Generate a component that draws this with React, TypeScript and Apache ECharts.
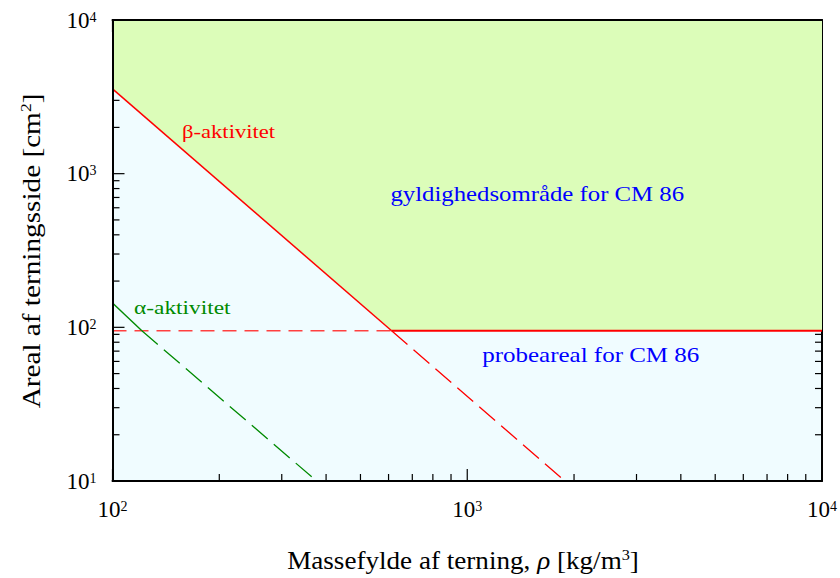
import React, { useEffect, useRef } from "react";
import * as echarts from "echarts";

// ---- axis extents and ticks ----
const X_MIN = 100;
const X_MAX = 10000;
const Y_MIN = 10;
const Y_MAX = 10000;
const xMajorTicks = [100, 1000, 10000];
const yMajorTicks = [10, 100, 1000, 10000];
const xMinorTicks = [200, 300, 400, 500, 600, 700, 800, 900, 2000, 3000, 4000, 5000, 6000, 7000, 8000, 9000];
const yMinorTicks = [20, 30, 40, 50, 60, 70, 80, 90, 200, 300, 400, 500, 600, 700, 800, 900, 2000, 3000, 4000, 5000, 6000, 7000, 8000, 9000];
const xTickValues = [100, 1000, 10000];
const xTickExponents = ["2", "3", "4"];
const yTickValues = [10, 100, 1000, 10000];
const yTickExponents = ["1", "2", "3", "4"];

// ---- axis titles ----
const xTitle = "{t|Massefylde af terning, }{i|ρ}{t| [kg/m}{s|3}{t|]}";
const yTitle = "{t|Areal af terningsside [cm}{s|2}{t|]}";

// ---- curves (density kg/m3, area cm2) ----
const betaSolid = [[100, 3560], [612, 95]];
const betaDashed = [[612, 95], [1884, 10]];
const probeSolid = [[612, 95], [10000, 95]];
const probeDashed = [[100, 95], [612, 95]];
const alphaSolid = [[100, 144], [121, 95]];
const alphaDashed = [[121, 95], [376, 10]];
const validRegion = [[100, 10000], [100, 3560], [612, 95], [10000, 95], [10000, 10000]];

// ---- annotations ----
const annotationTexts = ["β-aktivitet", "α-aktivitet", "gyldighedsområde for CM 86", "probeareal for CM 86"];
const annotationPoints = [[157, 1880], [115, 134], [1575, 740], [2229, 66]];
const annotationColors = ["#ff0000", "#008a00", "#0000ff", "#0000ff"];
const annotationAlign = ["left", "left", "center", "center"];
const annotationSize = [19, 19, 21, 21];
const annotationStretch = [1.19, 1.23, 1.18, 1.19];

const FONT = "'Liberation Serif', 'Times New Roman', serif";

function supLabel(values: number[], exps: string[]) {
  return (v: number) => {
    let idx = 0;
    let best = Infinity;
    values.forEach((t, i) => {
      const d = Math.abs(Math.log10(t) - Math.log10(v));
      if (d < best) { best = d; idx = i; }
    });
    return `{b|10}{s|${exps[idx]}}`;
  };
}

const tickRich = {
  b: { fontFamily: FONT, fontSize: 23, lineHeight: 24, color: "#000" },
  s: { fontFamily: FONT, fontSize: 14, lineHeight: 14, verticalAlign: "top", padding: [2, 0, 0, 0], color: "#000" },
};

const titleRich = {
  t: { fontFamily: FONT, fontSize: 25, lineHeight: 28, color: "#000" },
  i: { fontFamily: FONT, fontSize: 25, lineHeight: 28, fontStyle: "italic", color: "#000" },
  s: { fontFamily: FONT, fontSize: 15, lineHeight: 15, verticalAlign: "top", color: "#000" },
};

export default function App() {
  const ref = useRef<HTMLDivElement>(null);
  useEffect(() => {
    if (!ref.current) return;
    const chart = echarts.init(ref.current, undefined, { renderer: "svg" });

    const tickData: number[][] = [];
    xMajorTicks.forEach((v) => { tickData.push([v, Y_MIN, 0, 1]); tickData.push([v, Y_MAX, 1, 1]); });
    xMinorTicks.forEach((v) => { tickData.push([v, Y_MIN, 0, 0]); tickData.push([v, Y_MAX, 1, 0]); });
    yMajorTicks.forEach((v) => { tickData.push([X_MIN, v, 2, 1]); tickData.push([X_MAX, v, 3, 1]); });
    yMinorTicks.forEach((v) => { tickData.push([X_MIN, v, 2, 0]); tickData.push([X_MAX, v, 3, 0]); });

    const lineSeries = (data: number[][], color: string, width: number, type: any, z: number) => ({
      type: "line",
      data,
      showSymbol: false,
      symbol: "none",
      silent: true,
      z,
      lineStyle: { color, width, type },
    });

    const option: any = {
      animation: false,
      textStyle: { fontFamily: FONT },
      grid: {
        left: 112.5,
        right: 17.7,
        top: 20,
        bottom: 97,
        show: true,
        backgroundColor: "#f0fcff",
        borderWidth: 0,
      },
      graphic: [
        {
          type: "text",
          x: 463,
          y: 561,
          scaleX: 1.085,
          silent: true,
          style: { text: xTitle, rich: titleRich, align: "center", verticalAlign: "middle", fill: "#000" },
        },
        {
          type: "text",
          x: 32,
          y: 251,
          rotation: Math.PI / 2,
          scaleX: 1.17,
          silent: true,
          style: { text: yTitle, rich: titleRich, align: "center", verticalAlign: "middle", fill: "#000" },
        },
      ],
      xAxis: [
        {
          type: "log",
          logBase: 10,
          min: X_MIN,
          max: X_MAX,
          position: "bottom",
          z: 6,
          axisLine: { show: true, lineStyle: { color: "#000", width: 2 } },
          axisTick: { show: false },
          splitLine: { show: false },
          axisLabel: {
            margin: 16,
            fontFamily: FONT,
            formatter: supLabel(xTickValues, xTickExponents),
            rich: tickRich,
            showMinLabel: true,
            showMaxLabel: true,
          },
        },
        {
          type: "log",
          logBase: 10,
          min: X_MIN,
          max: X_MAX,
          position: "top",
          z: 6,
          axisLine: { show: true, lineStyle: { color: "#000", width: 2 } },
          axisTick: { show: false },
          axisLabel: { show: false },
          splitLine: { show: false },
        },
      ],
      yAxis: [
        {
          type: "log",
          logBase: 10,
          min: Y_MIN,
          max: Y_MAX,
          position: "left",
          z: 6,
          axisLine: { show: true, lineStyle: { color: "#000", width: 2 } },
          axisTick: { show: false },
          splitLine: { show: false },
          axisLabel: {
            margin: 16,
            fontFamily: FONT,
            formatter: supLabel(yTickValues, yTickExponents),
            rich: tickRich,
            showMinLabel: true,
            showMaxLabel: true,
          },
        },
        {
          type: "log",
          logBase: 10,
          min: Y_MIN,
          max: Y_MAX,
          position: "right",
          z: 0,
          axisLine: { show: true, lineStyle: { color: "#000", width: 2 } },
          axisTick: { show: false },
          axisLabel: { show: false },
          splitLine: { show: false },
        },
      ],
      series: [
        {
          type: "custom",
          silent: true,
          z: 1,
          clip: false,
          dimensions: ["x", "y", "side", "major"],
          encode: { x: 0, y: 1 },
          data: tickData,
          renderItem: (_p: any, api: any) => {
            const pt = api.coord([api.value(0), api.value(1)]);
            const side = api.value(2);
            const len = api.value(3) ? 12 : 7;
            let x2 = pt[0];
            let y2 = pt[1];
            if (side === 0) y2 -= len;
            else if (side === 1) y2 += len;
            else if (side === 2) x2 += len;
            else x2 -= len;
            return {
              type: "line",
              shape: { x1: pt[0], y1: pt[1], x2, y2 },
              style: { stroke: "#000", lineWidth: 1.2 },
            };
          },
        },
        {
          type: "custom",
          silent: true,
          z: 2,
          clip: false,
          encode: { x: 0, y: 1 },
          data: validRegion,
          renderItem: (p: any, api: any) => {
            if (p.dataIndex !== 0) return { type: "group", children: [] };
            const pts = validRegion.map((d) => api.coord(d));
            return {
              type: "polygon",
              shape: { points: pts },
              style: { fill: "#dcfdb9", stroke: "none" },
            };
          },
        },
        lineSeries(probeDashed, "#ff4040", 1.5, [14, 8], 3),
        lineSeries(betaDashed, "#ff0000", 1.3, [21, 8], 3),
        lineSeries(alphaDashed, "#008a00", 1.3, [21, 8], 3),
        lineSeries(betaSolid, "#ff0000", 1.5, "solid", 4),
        lineSeries(probeSolid, "#ff0000", 2, "solid", 4),
        lineSeries(alphaSolid, "#008a00", 1.4, "solid", 4),
        {
          type: "custom",
          silent: true,
          z: 5,
          clip: false,
          encode: { x: 0, y: 1 },
          data: annotationPoints,
          renderItem: (p: any, api: any) => {
            const i = p.dataIndex;
            const pt = api.coord([api.value(0), api.value(1)]);
            return {
              type: "text",
              x: pt[0],
              y: pt[1],
              scaleX: annotationStretch[i],
              style: {
                text: annotationTexts[i],
                fill: annotationColors[i],
                fontFamily: FONT,
                fontSize: annotationSize[i],
                align: annotationAlign[i],
                verticalAlign: "middle",
              },
            };
          },
        },
      ],
    };
    chart.setOption(option);
    return () => chart.dispose();
  }, []);
  return (
    <div
      ref={ref}
      style={{ position: "absolute", left: 0, top: 0, width: 840, height: 578, background: "#fff" }}
    />
  );
}
